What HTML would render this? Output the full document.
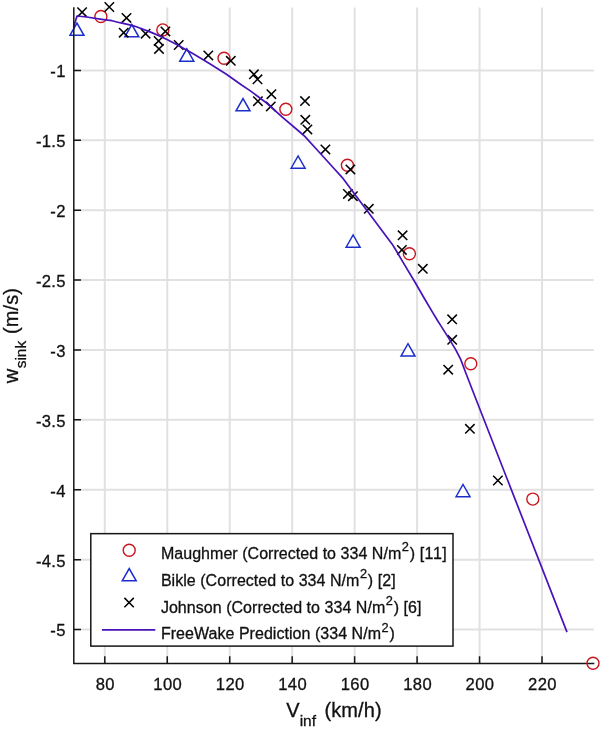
<!DOCTYPE html>
<html lang="en"><head><meta charset="utf-8"><title>Sink rate vs airspeed</title>
<style>html,body{margin:0;padding:0;background:#fff}body{width:602px;height:730px;overflow:hidden}svg{display:block}text{font-family:'Liberation Sans', Arial, Helvetica, sans-serif;fill:#111;stroke:#111;stroke-width:0.3px}</style></head><body>
<svg width="602" height="730" viewBox="0 0 602 730">
<rect width="602" height="730" fill="#fff"/>
<path d="M104.80 7.6V663.5M167.26 7.6V663.5M229.72 7.6V663.5M292.18 7.6V663.5M354.64 7.6V663.5M417.10 7.6V663.5M479.56 7.6V663.5M542.02 7.6V663.5M73.8 70.40H593.8M73.8 140.29H593.8M73.8 210.18H593.8M73.8 280.07H593.8M73.8 349.96H593.8M73.8 419.85H593.8M73.8 489.74H593.8M73.8 559.63H593.8M73.8 629.52H593.8" stroke="#e1e1e1" stroke-width="2" fill="none"/>
<g><circle cx="100.90" cy="16.50" r="6.0" fill="#fff" stroke="#c9161f" stroke-width="1.4"/><circle cx="162.80" cy="29.90" r="6.0" fill="#fff" stroke="#c9161f" stroke-width="1.4"/><circle cx="224.00" cy="58.20" r="6.0" fill="#fff" stroke="#c9161f" stroke-width="1.4"/><circle cx="285.85" cy="109.25" r="6.0" fill="#fff" stroke="#c9161f" stroke-width="1.4"/><circle cx="347.40" cy="165.30" r="6.0" fill="#fff" stroke="#c9161f" stroke-width="1.4"/><circle cx="409.40" cy="253.80" r="6.0" fill="#fff" stroke="#c9161f" stroke-width="1.4"/><circle cx="470.80" cy="363.70" r="6.0" fill="#fff" stroke="#c9161f" stroke-width="1.4"/><circle cx="532.80" cy="499.10" r="6.0" fill="#fff" stroke="#c9161f" stroke-width="1.4"/></g>
<g><path d="M69.95 35.35L76.95 23.05L83.95 35.35Z" fill="#fff" stroke="#1a2ecc" stroke-width="1.5" stroke-linejoin="miter"/><path d="M124.80 36.85L131.80 24.55L138.80 36.85Z" fill="#fff" stroke="#1a2ecc" stroke-width="1.5" stroke-linejoin="miter"/><path d="M179.80 61.15L186.80 48.85L193.80 61.15Z" fill="#fff" stroke="#1a2ecc" stroke-width="1.5" stroke-linejoin="miter"/><path d="M236.00 110.85L243.00 98.55L250.00 110.85Z" fill="#fff" stroke="#1a2ecc" stroke-width="1.5" stroke-linejoin="miter"/><path d="M291.10 168.25L298.10 155.95L305.10 168.25Z" fill="#fff" stroke="#1a2ecc" stroke-width="1.5" stroke-linejoin="miter"/><path d="M346.10 247.25L353.10 234.95L360.10 247.25Z" fill="#fff" stroke="#1a2ecc" stroke-width="1.5" stroke-linejoin="miter"/><path d="M401.00 356.05L408.00 343.75L415.00 356.05Z" fill="#fff" stroke="#1a2ecc" stroke-width="1.5" stroke-linejoin="miter"/><path d="M456.00 496.75L463.00 484.45L470.00 496.75Z" fill="#fff" stroke="#1a2ecc" stroke-width="1.5" stroke-linejoin="miter"/></g>
<g><path d="M77.40 7.50L86.80 16.90M77.40 16.90L86.80 7.50" fill="none" stroke="#000" stroke-width="1.5"/><path d="M104.60 2.30L114.00 11.70M104.60 11.70L114.00 2.30" fill="none" stroke="#000" stroke-width="1.5"/><path d="M121.80 13.20L131.20 22.60M121.80 22.60L131.20 13.20" fill="none" stroke="#000" stroke-width="1.5"/><path d="M119.00 28.00L128.40 37.40M119.00 37.40L128.40 28.00" fill="none" stroke="#000" stroke-width="1.5"/><path d="M140.90 29.00L150.30 38.40M140.90 38.40L150.30 29.00" fill="none" stroke="#000" stroke-width="1.5"/><path d="M160.70 26.70L170.10 36.10M160.70 36.10L170.10 26.70" fill="none" stroke="#000" stroke-width="1.5"/><path d="M153.90 36.20L163.30 45.60M153.90 45.60L163.30 36.20" fill="none" stroke="#000" stroke-width="1.5"/><path d="M154.30 44.20L163.70 53.60M154.30 53.60L163.70 44.20" fill="none" stroke="#000" stroke-width="1.5"/><path d="M174.00 40.30L183.40 49.70M174.00 49.70L183.40 40.30" fill="none" stroke="#000" stroke-width="1.5"/><path d="M203.60 50.70L213.00 60.10M203.60 60.10L213.00 50.70" fill="none" stroke="#000" stroke-width="1.5"/><path d="M226.10 56.15L235.50 65.55M226.10 65.55L235.50 56.15" fill="none" stroke="#000" stroke-width="1.5"/><path d="M249.20 69.60L258.60 79.00M249.20 79.00L258.60 69.60" fill="none" stroke="#000" stroke-width="1.5"/><path d="M252.80 74.60L262.20 84.00M252.80 84.00L262.20 74.60" fill="none" stroke="#000" stroke-width="1.5"/><path d="M266.70 89.50L276.10 98.90M266.70 98.90L276.10 89.50" fill="none" stroke="#000" stroke-width="1.5"/><path d="M253.20 96.50L262.60 105.90M253.20 105.90L262.60 96.50" fill="none" stroke="#000" stroke-width="1.5"/><path d="M266.10 101.70L275.50 111.10M266.10 111.10L275.50 101.70" fill="none" stroke="#000" stroke-width="1.5"/><path d="M300.30 96.40L309.70 105.80M300.30 105.80L309.70 96.40" fill="none" stroke="#000" stroke-width="1.5"/><path d="M300.60 115.10L310.00 124.50M300.60 124.50L310.00 115.10" fill="none" stroke="#000" stroke-width="1.5"/><path d="M302.70 124.70L312.10 134.10M302.70 134.10L312.10 124.70" fill="none" stroke="#000" stroke-width="1.5"/><path d="M320.70 144.70L330.10 154.10M320.70 154.10L330.10 144.70" fill="none" stroke="#000" stroke-width="1.5"/><path d="M345.70 164.70L355.10 174.10M345.70 174.10L355.10 164.70" fill="none" stroke="#000" stroke-width="1.5"/><path d="M343.20 189.20L352.60 198.60M343.20 198.60L352.60 189.20" fill="none" stroke="#000" stroke-width="1.5"/><path d="M348.20 191.50L357.60 200.90M348.20 200.90L357.60 191.50" fill="none" stroke="#000" stroke-width="1.5"/><path d="M364.10 204.10L373.50 213.50M364.10 213.50L373.50 204.10" fill="none" stroke="#000" stroke-width="1.5"/><path d="M397.90 230.60L407.30 240.00M397.90 240.00L407.30 230.60" fill="none" stroke="#000" stroke-width="1.5"/><path d="M397.20 245.20L406.60 254.60M397.20 254.60L406.60 245.20" fill="none" stroke="#000" stroke-width="1.5"/><path d="M418.10 264.10L427.50 273.50M418.10 273.50L427.50 264.10" fill="none" stroke="#000" stroke-width="1.5"/><path d="M447.45 314.60L456.85 324.00M447.45 324.00L456.85 314.60" fill="none" stroke="#000" stroke-width="1.5"/><path d="M447.50 335.10L456.90 344.50M447.50 344.50L456.90 335.10" fill="none" stroke="#000" stroke-width="1.5"/><path d="M443.50 365.00L452.90 374.40M443.50 374.40L452.90 365.00" fill="none" stroke="#000" stroke-width="1.5"/><path d="M465.20 424.10L474.60 433.50M465.20 433.50L474.60 424.10" fill="none" stroke="#000" stroke-width="1.5"/><path d="M493.20 475.80L502.60 485.20M493.20 485.20L502.60 475.80" fill="none" stroke="#000" stroke-width="1.5"/></g>
<polyline points="73.6,26.9 77.0,16.0 86.6,17.0 101.9,19.3 112.0,20.7 119.8,22.7 131.9,25.4 136.4,26.7 151.9,32.6 160.0,36.2 167.0,39.5 176.6,44.4 193.2,53.8 206.9,61.9 209.8,63.7 226.4,74.2 241.6,85.0 250.0,90.6 262.9,100.2 266.6,103.0 283.2,117.8 299.8,132.0 304.8,136.4 317.9,150.7 333.1,167.5 342.3,177.6 355.1,194.7 367.0,210.6 375.0,221.2 392.0,243.9 396.0,250.3 403.1,262.4 415.6,283.2 424.7,299.0 432.3,311.9 437.2,320.0 440.3,324.9 448.4,337.6 455.8,349.9 460.7,359.4 466.3,374.3 472.4,390.0 567.0,632.1" fill="none" stroke="#4712ba" stroke-width="1.7" stroke-linejoin="round"/>
<path d="M73.8 7.3V663.5H594.3M104.80 663.5v-7.2M167.26 663.5v-7.2M229.72 663.5v-7.2M292.18 663.5v-7.2M354.64 663.5v-7.2M417.10 663.5v-7.2M479.56 663.5v-7.2M542.02 663.5v-7.2M73.8 70.40h7.2M73.8 140.29h7.2M73.8 210.18h7.2M73.8 280.07h7.2M73.8 349.96h7.2M73.8 419.85h7.2M73.8 489.74h7.2M73.8 559.63h7.2M73.8 629.52h7.2" stroke="#161616" stroke-width="1.5" fill="none"/>
<circle cx="593.00" cy="663.20" r="6.0" fill="none" stroke="#c9161f" stroke-width="1.4"/>
<text x="105.30" y="689.6" font-size="16.6" text-anchor="middle" letter-spacing="0.4">80</text>
<text x="167.76" y="689.6" font-size="16.6" text-anchor="middle" letter-spacing="0.4">100</text>
<text x="230.22" y="689.6" font-size="16.6" text-anchor="middle" letter-spacing="0.4">120</text>
<text x="292.68" y="689.6" font-size="16.6" text-anchor="middle" letter-spacing="0.4">140</text>
<text x="355.14" y="689.6" font-size="16.6" text-anchor="middle" letter-spacing="0.4">160</text>
<text x="417.60" y="689.6" font-size="16.6" text-anchor="middle" letter-spacing="0.4">180</text>
<text x="480.06" y="689.6" font-size="16.6" text-anchor="middle" letter-spacing="0.4">200</text>
<text x="542.52" y="689.6" font-size="16.6" text-anchor="middle" letter-spacing="0.4">220</text>
<text x="65.7" y="77.30" font-size="16.6" text-anchor="end" letter-spacing="0.3">-1</text>
<text x="65.7" y="147.19" font-size="16.6" text-anchor="end" letter-spacing="0.3">-1.5</text>
<text x="65.7" y="217.08" font-size="16.6" text-anchor="end" letter-spacing="0.3">-2</text>
<text x="65.7" y="286.97" font-size="16.6" text-anchor="end" letter-spacing="0.3">-2.5</text>
<text x="65.7" y="356.86" font-size="16.6" text-anchor="end" letter-spacing="0.3">-3</text>
<text x="65.7" y="426.75" font-size="16.6" text-anchor="end" letter-spacing="0.3">-3.5</text>
<text x="65.7" y="496.64" font-size="16.6" text-anchor="end" letter-spacing="0.3">-4</text>
<text x="65.7" y="566.53" font-size="16.6" text-anchor="end" letter-spacing="0.3">-4.5</text>
<text x="65.7" y="636.42" font-size="16.6" text-anchor="end" letter-spacing="0.3">-5</text>
<text x="286.3" y="717.3" font-size="20">V<tspan font-size="15.5" dx="0" dy="8.2">inf</tspan><tspan dx="2.7" dy="-8.2" letter-spacing="0.12"> (km/h)</tspan></text>
<text transform="translate(17.8,383.3) rotate(-90)" font-size="20">w<tspan font-size="15.5" dx="0.5" dy="8.6">sink</tspan><tspan dx="1.1" dy="-8.6" letter-spacing="0.1"> (m/s)</tspan></text>
<rect x="90.8" y="533.65" width="362.2" height="112.45" fill="#fff" stroke="#161616" stroke-width="1.5"/>
<circle cx="129.20" cy="550.20" r="6.0" fill="#fff" stroke="#c9161f" stroke-width="1.4"/>
<path d="M122.20 580.85L129.20 568.55L136.20 580.85Z" fill="#fff" stroke="#1a2ecc" stroke-width="1.5" stroke-linejoin="miter"/>
<path d="M124.40 597.90L133.80 607.30M124.40 607.30L133.80 597.90" fill="none" stroke="#000" stroke-width="1.5"/>
<path d="M101.9 629.9H155.3" stroke="#4712ba" stroke-width="1.7"/>
<text x="160.9" y="558.9" font-size="16" letter-spacing="0.04">Maughmer (Corrected to 334 N/m<tspan font-size="12.8" dx="0.5" dy="-7.6">2</tspan><tspan dx="0.8" dy="7.6">) <tspan letter-spacing="0.55">[11]</tspan></tspan></text>
<text x="160.9" y="585.5" font-size="16" letter-spacing="0.04">Bikle (Corrected to 334 N/m<tspan font-size="12.8" dx="0.5" dy="-7.6">2</tspan><tspan dx="0.8" dy="7.6">) [2]</tspan></text>
<text x="160.9" y="612.7" font-size="16" letter-spacing="0.04">Johnson (Corrected to 334 N/m<tspan font-size="12.8" dx="0.5" dy="-7.6">2</tspan><tspan dx="0.8" dy="7.6">) [6]</tspan></text>
<text x="160.9" y="639.2" font-size="16" letter-spacing="0.04">FreeWake Prediction (334 N/m<tspan font-size="12.8" dx="0.5" dy="-7.6">2</tspan><tspan dx="0.8" dy="7.6">)</tspan></text>
</svg></body></html>
